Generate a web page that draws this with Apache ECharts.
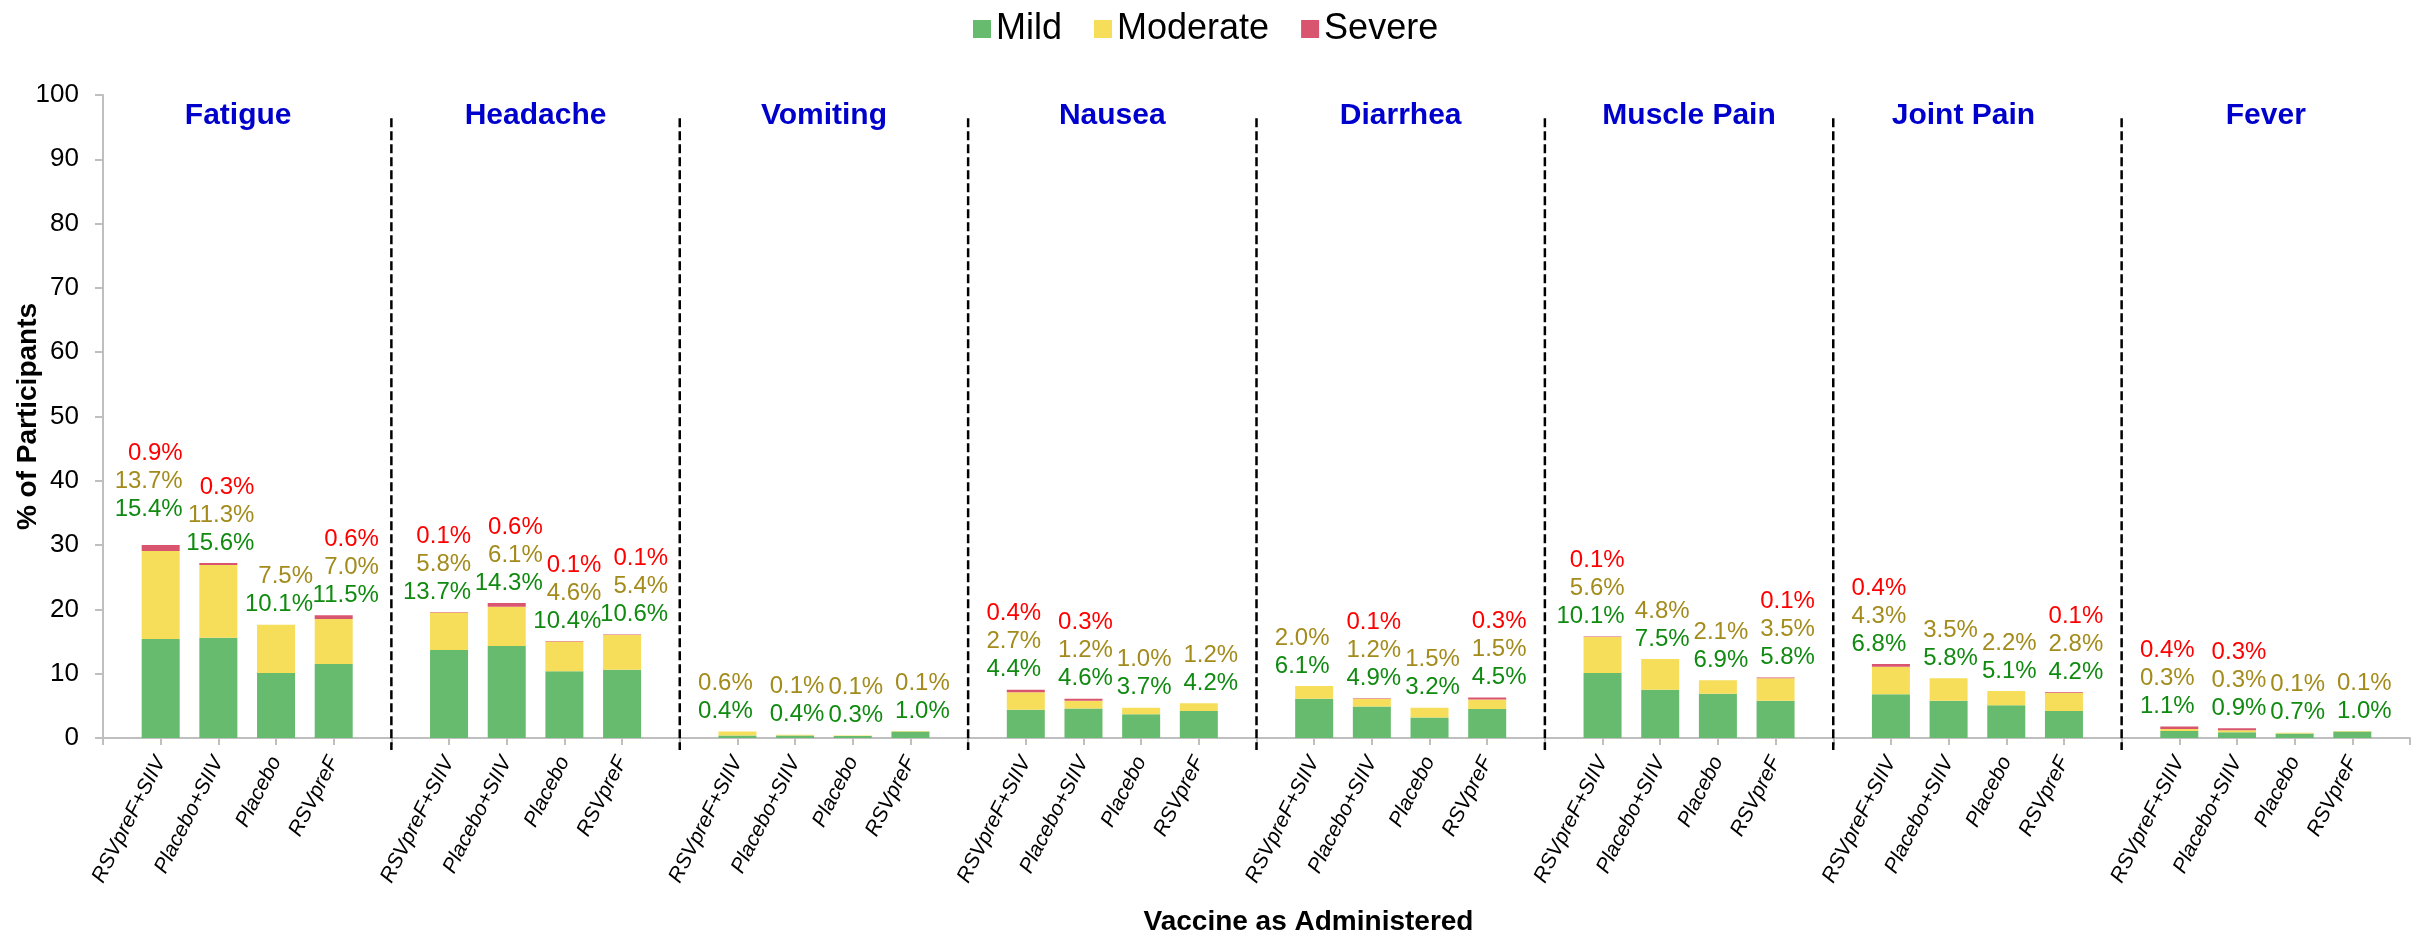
<!DOCTYPE html>
<html>
<head>
<meta charset="utf-8">
<script src="https://cdn.jsdelivr.net/npm/echarts@6/dist/echarts.min.js"></script>
<style>
  html, body { margin: 0; padding: 0; background: #ffffff; }
  #chart { width: 2419px; height: 935px; }
</style>
</head>
<body>
<div id="chart"></div>
<script>
// Solicited systemic events by maximum severity, per symptom and study arm
const symptoms = ['Fatigue', 'Headache', 'Vomiting', 'Nausea', 'Diarrhea', 'Muscle Pain', 'Joint Pain', 'Fever'];
const arms = ['RSVpreF+SIIV', 'Placebo+SIIV', 'Placebo', 'RSVpreF'];
const yTicks = { min: 0, max: 100, step: 10 };

// Percent of participants, four arms per symptom (same order as `arms`)
const mild = [
  15.4, 15.6, 10.1, 11.5,
  13.7, 14.3, 10.4, 10.6,
  0.4, 0.4, 0.3, 1.0,
  4.4, 4.6, 3.7, 4.2,
  6.1, 4.9, 3.2, 4.5,
  10.1, 7.5, 6.9, 5.8,
  6.8, 5.8, 5.1, 4.2,
  1.1, 0.9, 0.7, 1.0
];
const moderate = [
  13.7, 11.3, 7.5, 7.0,
  5.8, 6.1, 4.6, 5.4,
  0.6, 0.1, 0.1, 0.1,
  2.7, 1.2, 1.0, 1.2,
  2.0, 1.2, 1.5, 1.5,
  5.6, 4.8, 2.1, 3.5,
  4.3, 3.5, 2.2, 2.8,
  0.3, 0.3, 0.1, 0.1
];
// null = no severe event reported
const severe = [
  0.9, 0.3, null, 0.6,
  0.1, 0.6, 0.1, 0.1,
  null, null, null, null,
  0.4, 0.3, null, null,
  null, 0.1, null, 0.3,
  0.1, null, null, 0.1,
  0.4, null, null, 0.1,
  0.4, 0.3, null, null
];

const FONT = '"Liberation Sans", Arial, Helvetica, sans-serif';
const SLOTS = arms.length + 1;              // one empty slot separates symptoms
const labelShift = [-12, 2, 3, 12];          // horizontal nudge of value labels per arm
const labelLift = { 0: 16 };                 // extra lift (px) for crowded label stacks
const titleShift = { 'Fatigue': 9, 'Joint Pain': 14 };  // leftward nudge of group titles (px)
const DIVIDER_TOP = 96.4;                    // dashed separators start just under 100
const DIVIDER_OVERHANG = 12;                 // and run a little past the x axis (px)

// Slot axis: a blank slot at each symptom boundary, arms in between
const slotNames = [];
const slotOfBar = [];
for (let g = 0; g < symptoms.length; g++) {
  slotNames.push('');
  arms.forEach(function (a) { slotOfBar.push(slotNames.length); slotNames.push(a); });
}
slotNames.push('');

function pct(v) { return v.toFixed(1) + '%'; }

function seriesData(values, withLabel) {
  const out = slotNames.map(function () { return null; });
  values.forEach(function (v, i) {
    const item = { value: v == null ? 0 : v, barIndex: i };
    if (withLabel) item.label = { offset: [labelShift[i % arms.length], -(labelLift[i] || 0)] };
    out[slotOfBar[i]] = item;
  });
  return out;
}

const titleItems = symptoms.map(function (s) {
  const d = titleShift[s] || 0;
  return d ? { value: s, textStyle: { padding: [0, 2 * d, 0, 0] } } : s;
});

const chart = echarts.init(document.getElementById('chart'), null, { renderer: 'canvas' });

chart.setOption({
  backgroundColor: '#ffffff',
  animation: false,
  textStyle: { fontFamily: FONT },
  legend: {
    top: 6,
    left: 968,
    itemWidth: 18,
    itemHeight: 18,
    itemGap: 32,
    icon: 'rect',
    textStyle: { fontSize: 36, color: '#000000', fontFamily: FONT },
    data: ['Mild', 'Moderate', 'Severe']
  },
  grid: { left: 103, right: 9, top: 95, bottom: 197, containLabel: false, outerBoundsMode: 'none' },
  xAxis: [
    {
      type: 'category',
      data: slotNames,
      boundaryGap: false,
      splitLine: { show: false },
      axisLine: { show: true, lineStyle: { color: '#bfbfbf', width: 2 } },
      axisTick: { show: true, interval: 0, length: 7, lineStyle: { color: '#bfbfbf', width: 2 } },
      axisLabel: {
        interval: 0,
        rotate: 63,
        margin: 20,
        fontSize: 21,
        fontStyle: 'italic',
        color: '#000000',
        fontFamily: FONT
      },
      name: 'Vaccine as Administered',
      nameLocation: 'middle',
      nameGap: 170,
      nameTextStyle: {
        fontSize: 28, fontWeight: 'bold', color: '#000000', fontFamily: FONT,
        padding: [0, 0, 0, 104]
      }
    },
    {
      type: 'category',
      position: 'top',
      offset: -36,
      data: titleItems,
      boundaryGap: true,
      axisLine: { show: false },
      axisTick: { show: false },
      splitLine: { show: false },
      axisLabel: {
        interval: 0,
        margin: 0,
        fontSize: 30,
        fontWeight: 'bold',
        color: '#0000cc',
        fontFamily: FONT
      }
    }
  ],
  yAxis: {
    type: 'value',
    min: yTicks.min,
    max: yTicks.max,
    interval: yTicks.step,
    splitLine: { show: false },
    axisLine: { show: true, lineStyle: { color: '#bfbfbf', width: 2 } },
    axisTick: { show: true, length: 8, lineStyle: { color: '#bfbfbf', width: 2 } },
    axisLabel: { fontSize: 26, color: '#000000', margin: 24, fontFamily: FONT },
    name: '% of Participants',
    nameLocation: 'middle',
    nameGap: 61,
    nameMoveOverlap: false,
    nameTextStyle: { fontSize: 28, fontWeight: 'bold', color: '#000000', fontFamily: FONT }
  },
  series: [
    {
      name: 'Mild',
      type: 'bar',
      stack: 'sev',
      barWidth: 38,
      itemStyle: { color: '#67bb6e' },
      data: seriesData(mild, false)
    },
    {
      name: 'Moderate',
      type: 'bar',
      stack: 'sev',
      barWidth: 38,
      itemStyle: { color: '#f6de5a' },
      data: seriesData(moderate, false)
    },
    {
      name: 'Severe',
      type: 'bar',
      stack: 'sev',
      barWidth: 38,
      itemStyle: { color: '#d9546f' },
      data: seriesData(severe, true),
      label: {
        show: true,
        position: 'top',
        distance: 6,
        fontFamily: FONT,
        formatter: function (p) {
          const i = p.data.barIndex;
          const lines = [];
          if (severe[i] != null) lines.push('{s|' + pct(severe[i]) + '}');
          lines.push('{m|' + pct(moderate[i]) + '}');
          lines.push('{g|' + pct(mild[i]) + '}');
          return lines.join('\n');
        },
        rich: {
          s: { color: '#ff0000', fontSize: 24, lineHeight: 28, align: 'right', fontFamily: FONT },
          m: { color: '#a38b1c', fontSize: 24, lineHeight: 28, align: 'right', fontFamily: FONT },
          g: { color: '#108a10', fontSize: 24, lineHeight: 28, align: 'right', fontFamily: FONT }
        }
      }
    }
  ]
});

// Dashed separators between symptom groups, placed through the axis scales
const yTop = chart.convertToPixel({ yAxisIndex: 0 }, DIVIDER_TOP);
const yBase = chart.convertToPixel({ yAxisIndex: 0 }, yTicks.min) + DIVIDER_OVERHANG;
const separators = [];
for (let g = 1; g < symptoms.length; g++) {
  const x = chart.convertToPixel({ xAxisIndex: 0 }, g * SLOTS);
  separators.push({
    type: 'line',
    silent: true,
    z: 5,
    shape: { x1: x, y1: yTop, x2: x, y2: yBase },
    style: { stroke: '#000000', lineWidth: 2.5, lineDash: [9, 4] }
  });
}
chart.setOption({ graphic: separators });
</script>
</body>
</html>
